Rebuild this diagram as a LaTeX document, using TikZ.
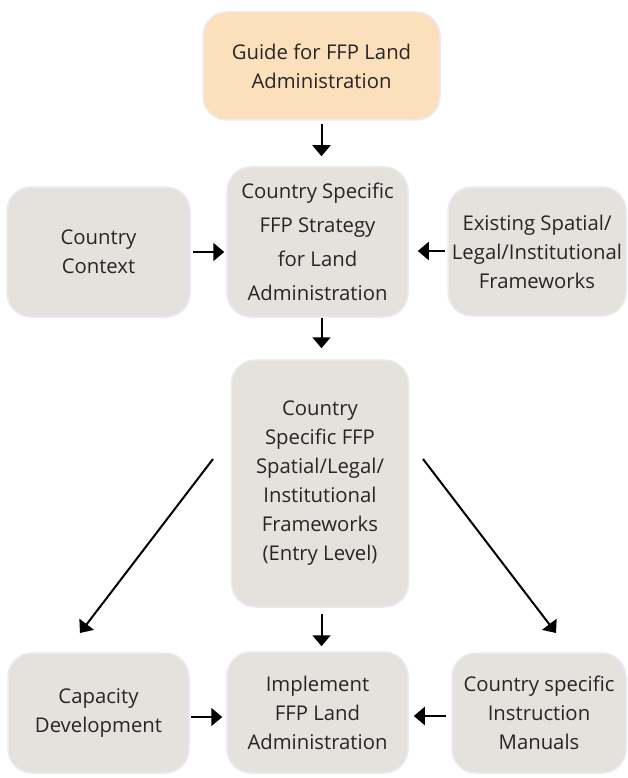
\documentclass[tikz,border=0pt]{standalone}
\usepackage{fontspec}
\setmainfont{Open Sans}
\usetikzlibrary{arrows.meta}
\definecolor{boxgray}{RGB}{229,225,221}
\definecolor{boxpeach}{RGB}{252,224,187}
\definecolor{boxedge}{RGB}{234,234,239}
\begin{document}
\begin{tikzpicture}[x=1pt,y=-1pt,
  box/.style={draw=boxedge,line width=1.5pt,fill=boxgray,rounded corners=24pt,
    inner sep=0pt,align=center,font=\fontsize{20.3}{29}\selectfont,text=black!85},
  arr/.style={-{Triangle[width=18pt,length=11pt]},line width=2pt}]
\useasboundingbox (0,0) rectangle (627,778);
% top row
\node[box,fill=boxpeach,minimum width=237pt,minimum height=108pt] (guide) at (321.5,66) {Guide for FFP Land\\Administration};
% middle row
\node[box,minimum width=183pt,minimum height=130pt] (context) at (98.5,252) {Country\\Context};
\node[box,minimum width=181pt,minimum height=150pt,font=\fontsize{20.3}{34}\selectfont] (strategy) at (317.5,242) {Country Specific\\FFP Strategy\\for Land\\Administration};
\node[box,minimum width=178pt,minimum height=129pt] (existing) at (537,251.5) {Existing Spatial/\\Legal/Institutional\\Frameworks};
\node[box,minimum width=177pt,minimum height=247pt] (frameworks) at (320,483.5) {Country\\Specific FFP\\Spatial/Legal/\\Institutional\\Frameworks\\(Entry Level)};
% bottom row
\node[box,minimum width=181pt,minimum height=120pt] (capacity) at (98.5,713) {Capacity\\Development};
\node[box,minimum width=181pt,minimum height=121pt] (implement) at (317.5,712.5) {Implement\\FFP Land\\Administration};
\node[box,minimum width=174pt,minimum height=120pt] (manuals) at (539,713) {Country specific\\Instruction\\Manuals};
\coordinate (fwleft) at (213,459);
\coordinate (fwright) at (423,459);
\coordinate (capin) at (80,633);
\coordinate (manin) at (556,633);
% connectors
\draw[arr,shorten <=3pt,shorten >=10pt] (guide.south) -- (guide.south |- strategy.north);
\draw[arr,shorten <=2pt,shorten >=2pt] (context.east |- 0,252) -- (strategy.west |- 0,252);
\draw[arr,shorten <=2pt,shorten >=9pt] (existing.west |- 0,251) -- (strategy.east |- 0,251);
\draw[arr,shorten <=0pt,shorten >=11pt] (strategy.south -| guide.south) -- (frameworks.north -| guide.south);
\draw[arr,shorten <=6pt,shorten >=5pt] (frameworks.south -| guide.south) -- (implement.north -| guide.south);
\draw[arr,shorten <=1pt,shorten >=4pt] (capacity.east |- 0,717) -- (implement.west |- 0,717);
\draw[arr,shorten <=5pt,shorten >=5pt] (manuals.west |- 0,716) -- (implement.east |- 0,716);
\draw[arr] (fwleft) -- (capin);
\draw[arr] (fwright) -- (manin);
\end{tikzpicture}
\end{document}
